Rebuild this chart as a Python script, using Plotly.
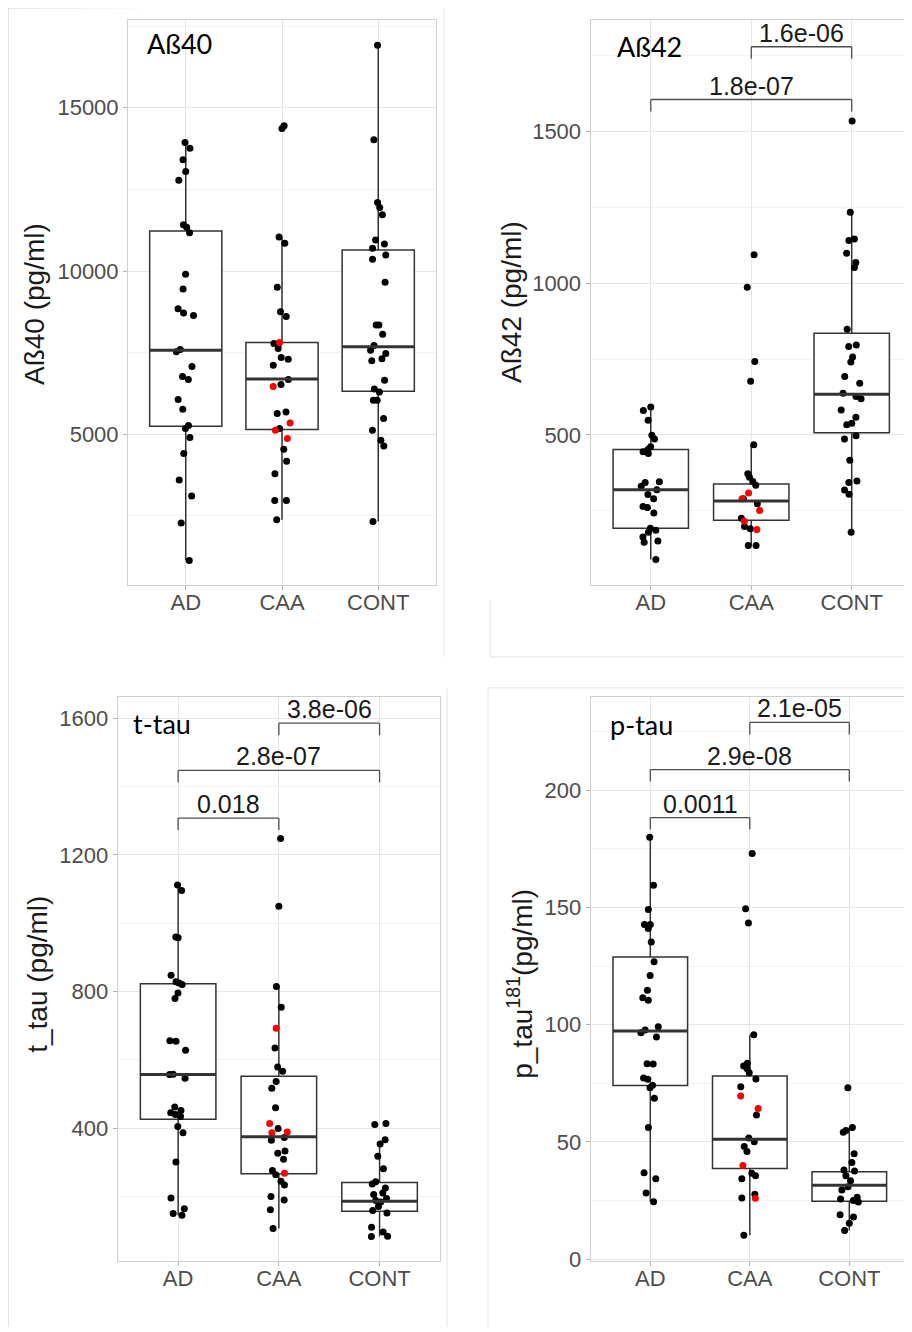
import plotly.graph_objects as go

# ---------------- data ----------------
groups = ["AD", "CAA", "CONT"]

# Panel 1: Aß40 (pg/ml)
ab40_AD = [13934, 13762, 13404, 13044, 12781, 11419, 11339, 11173, 9898, 9447, 8843, 8711,
           8635, 7598, 7524, 7076, 6770, 6678, 6064, 5767, 5267, 5175, 4899, 4408, 3598,
           3108, 2280, 1136]
ab40_CAA = [14447, 14364, 11042, 10848, 9499, 8751, 8609, 7782, 7782, 7628, 7352, 7300, 7116,
            6678, 6524, 5684, 5634, 5175, 4540, 4172, 3795, 2976, 2976, 2383]
ab40_CAA_red = [7812, 6463, 5347, 5123, 4868]
ab40_CONT = [16909, 14017, 12094, 11941, 11726, 10950, 10827, 10695, 10490, 10357, 9653, 8343,
             8343, 8067, 7720, 7576, 7475, 7310, 7248, 6656, 6390, 6297, 6043, 6043, 5481,
             5123, 4816, 4641, 2332]
ab40_q1 = [5245, 5144, 6319]
ab40_median = [7576, 6696, 7677]
ab40_q3 = [11226, 7812, 10643]
ab40_lo = [1136, 2383, 2332]
ab40_hi = [13934, 11042, 16909]

# Panel 2: Aß42 (pg/ml)
ab42_AD = [592, 580, 548, 499, 486, 461, 452, 444, 438, 345, 343, 330, 319, 303, 289, 264,
           260, 242, 192, 185, 179, 163, 150, 146, 89]
ab42_CAA = [1094, 987, 742, 677, 467, 372, 360, 346, 334, 289, 273, 225, 198, 190, 135, 135]
ab42_CAA_red = [308, 289, 250, 215, 188]
ab42_CONT = [1535, 1234, 1146, 1141, 1099, 1068, 1052, 848, 796, 791, 757, 740, 692, 670,
             637, 626, 619, 582, 558, 538, 533, 497, 486, 416, 348, 343, 318, 304, 179]
ab42_q1 = [192, 218, 507]
ab42_median = [319, 282, 634]
ab42_q3 = [452, 338, 835]
ab42_lo = [89, 135, 179]
ab42_hi = [592, 467, 1234]
ab42_pairs = [("CAA", "CONT"), ("AD", "CONT")]
ab42_pvals = ["1.6e-06", "1.8e-07"]

# Panel 3: t_tau (pg/ml)
ttau_AD = [1112, 1096, 960, 958, 848, 829, 825, 821, 796, 780, 656, 655, 628, 558, 557, 546,
           462, 452, 445, 440, 434, 405, 387, 301, 196, 164, 150, 145]
ttau_CAA = [1248, 1050, 815, 754, 635, 579, 567, 537, 517, 460, 399, 373, 365, 333, 327, 309,
            276, 264, 245, 234, 200, 190, 161, 106]
ttau_CAA_red = [693, 414, 389, 387, 268]
ttau_CONT = [414, 411, 366, 354, 318, 281, 243, 237, 225, 210, 206, 194, 188, 184, 171, 159,
             152, 110, 96, 84, 83]
ttau_q1 = [426, 267, 157]
ttau_median = [557, 375, 186]
ttau_q3 = [823, 552, 241]
ttau_lo = [145, 106, 83]
ttau_hi = [1112, 815, 354]
ttau_pairs = [("CAA", "CONT"), ("AD", "CONT"), ("AD", "CAA")]
ttau_pvals = ["3.8e-06", "2.8e-07", "0.018"]

# Panel 4: p_tau181 (pg/ml)
ptau_AD = [179.9, 159.5, 149.1, 142.7, 142.7, 141.0, 135.3, 126.8, 121.0, 114.7, 111.5, 110.4,
           99.1, 97.7, 96.5, 94.7, 83.3, 83.2, 77.2, 76.7, 74.1, 73.1, 68.6, 56.1, 36.8, 34.3,
           28.2, 24.5]
ptau_CAA = [173.0, 149.4, 143.3, 95.7, 83.5, 82.4, 81.2, 79.5, 76.8, 73.5, 61.5, 51.6, 50.1,
            48.0, 45.9, 36.6, 35.5, 34.3, 27.7, 26.1, 10.2]
ptau_CAA_red = [69.6, 64.2, 39.9, 26.0]
ptau_CONT = [73.1, 56.1, 54.8, 54.1, 44.9, 41.2, 38.0, 37.6, 35.5, 33.4, 30.9, 29.5, 26.4,
             25.6, 25.0, 24.4, 18.9, 17.9, 15.3, 12.2]
ptau_q1 = [74.0, 38.6, 24.7]
ptau_median = [97.3, 51.1, 31.5]
ptau_q3 = [128.9, 78.1, 37.3]
ptau_lo = [24.5, 10.2, 12.2]
ptau_hi = [179.9, 95.7, 56.1]
ptau_pairs = [("CAA", "CONT"), ("AD", "CONT"), ("AD", "CAA")]
ptau_pvals = ["2.1e-05", "2.9e-08", "0.0011"]

# ---------------- layout geometry (target pixels) ----------------
# page body margin of 8px; the captured page is slightly reduced vertically (factor SY)
OFF = 8
SX, SY = 1.0, 0.992
W, H = 910, 1330
FONT = "Liberation Sans, Arial, sans-serif"


def px2x(p):
    return (p / SX - OFF) / W


def px2y(p):
    return 1 - (p / SY - OFF) / H


def fx(a, b):
    return [max(0.0, px2x(a)), min(1.0, px2x(b))]


def fy(top, bottom):
    return [max(0.0, px2y(bottom)), min(1.0, px2y(top))]


panels = [
    dict(black=[ab40_AD, ab40_CAA, ab40_CONT], red=ab40_CAA_red,
         stats=(ab40_q1, ab40_median, ab40_q3, ab40_lo, ab40_hi),
         pairs=[], pvals=[], bracket_y=[],
         xdom=(128, 436), ydom=(20, 585), yrange=[388, 17684], dtick=5000,
         title="Aß40", title_xy=(145, 43), ytitle="Aß40 (pg/ml)", ytitle_xy=(35, 304)),
    dict(black=[ab42_AD, ab42_CAA, ab42_CONT], red=ab42_CAA_red,
         stats=(ab42_q1, ab42_median, ab42_q3, ab42_lo, ab42_hi),
         pairs=ab42_pairs, pvals=ab42_pvals, bracket_y=[1780, 1606],
         xdom=(590.5, 912), ydom=(20, 585), yrange=[5, 1868], dtick=500,
         title="Aß42", title_xy=(615, 46), ytitle="Aß42 (pg/ml)", ytitle_xy=(512, 302)),
    dict(black=[ttau_AD, ttau_CAA, ttau_CONT], red=ttau_CAA_red,
         stats=(ttau_q1, ttau_median, ttau_q3, ttau_lo, ttau_hi),
         pairs=ttau_pairs, pvals=ttau_pvals, bracket_y=[1586, 1448, 1308],
         xdom=(117.7, 440), ydom=(697, 1261), yrange=[12, 1663], dtick=400,
         title="t-tau", title_xy=(131, 724), ytitle="t_tau (pg/ml)", ytitle_xy=(38, 975)),
    dict(black=[ptau_AD, ptau_CAA, ptau_CONT], red=ptau_CAA_red,
         stats=(ptau_q1, ptau_median, ptau_q3, ptau_lo, ptau_hi),
         pairs=ptau_pairs, pvals=ptau_pvals, bracket_y=[228.9, 208.8, 188.3],
         xdom=(590.6, 909), ydom=(697, 1261), yrange=[-0.7, 239.8], dtick=50,
         title="p-tau", title_xy=(608, 725),
         ytitle="p_tau<sup>181</sup>(pg/ml)", ytitle_xy=(520, 984)),
]

fig = go.Figure()
shapes = []
annotations = []
BOXLINE = "#333333"

for i, p in enumerate(panels):
    n = i + 1
    xs = "x" if n == 1 else f"x{n}"
    ys = "y" if n == 1 else f"y{n}"
    q1, med, q3, lo, hi = p["stats"]

    # boxes (statistics)
    fig.add_trace(go.Box(
        x=groups, q1=q1, median=med, q3=q3, lowerfence=lo, upperfence=hi,
        boxpoints=False, width=0.75, whiskerwidth=0,
        fillcolor="white", line=dict(color=BOXLINE, width=1.5),
        xaxis=xs, yaxis=ys, showlegend=False, hoverinfo="skip"))
    # thicker median line as in ggplot
    for k, g in enumerate(groups):
        shapes.append(dict(type="line", xref=xs, yref=ys, x0=k - 0.375, x1=k + 0.375,
                           y0=med[k], y1=med[k], line=dict(color=BOXLINE, width=3)))

    # jittered black points
    bx, by = [], []
    for g, vals in zip(groups, p["black"]):
        bx += [g] * len(vals)
        by += vals
    fig.add_trace(go.Box(
        x=bx, y=by, boxpoints="all", jitter=0.9, pointpos=0, width=0.24,
        fillcolor="rgba(0,0,0,0)", line=dict(color="rgba(0,0,0,0)", width=0),
        marker=dict(color="black", size=7), whiskerwidth=0,
        xaxis=xs, yaxis=ys, showlegend=False))
    # red points (CAA)
    fig.add_trace(go.Box(
        x=["CAA"] * len(p["red"]), y=p["red"], boxpoints="all", jitter=0.9, pointpos=0,
        width=0.24, fillcolor="rgba(0,0,0,0)", line=dict(color="rgba(0,0,0,0)", width=0),
        marker=dict(color="#ff0000", size=7), whiskerwidth=0,
        xaxis=xs, yaxis=ys, showlegend=False))

    # significance brackets
    yr = p["yrange"]
    tick = 12 * (yr[1] - yr[0]) / (p["ydom"][1] - p["ydom"][0])
    for (g1, g2), lab, yb in zip(p["pairs"], p["pvals"], p["bracket_y"]):
        a, b = groups.index(g1), groups.index(g2)
        lc = dict(color="#4d4d4d", width=1.3)
        shapes.append(dict(type="line", xref=xs, yref=ys, x0=a, x1=b, y0=yb, y1=yb, line=lc))
        shapes.append(dict(type="line", xref=xs, yref=ys, x0=a, x1=a, y0=yb, y1=yb - tick, line=lc))
        shapes.append(dict(type="line", xref=xs, yref=ys, x0=b, x1=b, y0=yb, y1=yb - tick, line=lc))
        annotations.append(dict(xref=xs, yref=ys, x=(a + b) / 2, y=yb, text=lab,
                                showarrow=False, yanchor="bottom", yshift=-2,
                                font=dict(family=FONT, size=25, color="#1a1a1a")))

    # axes
    axfont = dict(family=FONT, size=22, color="#4d4d4d")
    fig.layout[f"xaxis{'' if n == 1 else n}"] = dict(
        domain=fx(*p["xdom"]), range=[-0.6, 2.6], type="category",
        categoryorder="array", categoryarray=groups, anchor=ys,
        showgrid=True, gridcolor="#e6e6e6", gridwidth=1,
        showline=True, mirror=True, linecolor="#cfcfcf", linewidth=1,
        ticks="outside", ticklen=4, tickcolor="#b3b3b3", tickfont=axfont, zeroline=False,
        ticklabelstandoff=-6)
    fig.layout[f"yaxis{'' if n == 1 else n}"] = dict(
        domain=fy(*p["ydom"]), range=yr, dtick=p["dtick"], tick0=0, anchor=xs,
        tickformat="d",
        showgrid=True, gridcolor="#e6e6e6", gridwidth=1,
        minor=dict(dtick=p["dtick"] / 2, showgrid=True, gridcolor="#f3f3f3", gridwidth=1),
        showline=True, mirror=True, linecolor="#cfcfcf", linewidth=1,
        ticks="outside", ticklen=4, tickcolor="#b3b3b3", tickfont=axfont, zeroline=False)

    # panel label and axis title
    tx, ty = p["title_xy"]
    annotations.append(dict(xref="paper", yref="paper", x=px2x(tx), y=px2y(ty), text=p["title"],
                            showarrow=False, xanchor="left", yanchor="middle",
                            font=dict(family="Lato, Open Sans, sans-serif", size=27, color="black")))
    ax_, ay_ = p["ytitle_xy"]
    annotations.append(dict(xref="paper", yref="paper", x=px2x(ax_), y=px2y(ay_), text=p["ytitle"],
                            showarrow=False, textangle=-90, xanchor="center", yanchor="middle",
                            font=dict(family=FONT, size=28, color="#1a1a1a")))

# faint frames of the composed figure
for x0, y0, x1, y1, col in [(8, 5, 912, 5, "#cccccc"), (8, 5, 8, 1332, "#c4c4c4"),
                            (444, 5, 444, 657, "#e2e2e2"),
                            (490, 600, 490, 657, "#e2e2e2"), (490, 657, 912, 657, "#e2e2e2"),
                            (447, 688, 447, 1332, "#e2e2e2"), (488, 688, 488, 1332, "#e2e2e2"),
                            (488, 688, 912, 688, "#e2e2e2")]:
    shapes.append(dict(type="line", xref="paper", yref="paper",
                       x0=max(0, px2x(x0)), x1=min(1, px2x(x1)),
                       y0=min(1, px2y(y0)), y1=max(0, px2y(y1)),
                       line=dict(color=col, width=1), layer="below"))

fig.update_layout(
    width=W, height=H, margin=dict(l=0, r=0, t=0, b=0),
    paper_bgcolor="white", plot_bgcolor="white",
    boxmode="overlay", showlegend=False,
    shapes=shapes, annotations=annotations,
    font=dict(family=FONT),
)

fig.write_html("out.html")
